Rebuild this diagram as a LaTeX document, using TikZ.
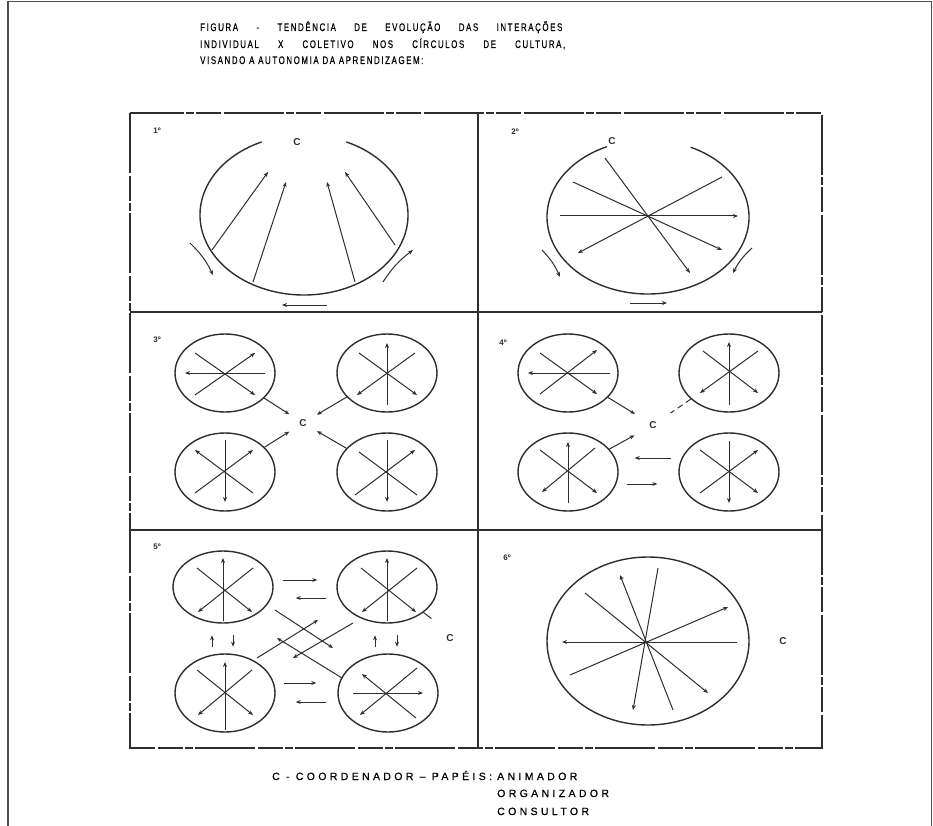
\documentclass[tikz,border=0pt]{standalone}
\usepackage{fontspec}
\setmainfont{Liberation Sans}
\newfontfamily\letreiro[LetterSpace=20, FakeBold=0.6]{Liberation Sans}
\newfontfamily\legfont[LetterSpace=32, FakeBold=0.6]{Liberation Sans}
\usetikzlibrary{arrows.meta, calc, shapes.geometric, positioning}
\definecolor{tinta}{HTML}{2E2E2E}
\definecolor{moldura}{HTML}{505050}
\tikzset{
    linha/.style={draw=tinta, line width=1.4pt},
    raio/.style={draw=tinta, line width=1pt},
    seta/.style={-{Stealth[length=5pt,width=4pt]}, draw=tinta, line width=1pt},
    grupo/.style={ellipse, draw=tinta, line width=1.4pt, minimum width=100pt, minimum height=78pt, inner sep=0pt},
    centro/.style={circle, inner sep=0pt, minimum size=32pt, font=\fontsize{10}{11}\selectfont\bfseries, text=tinta},
    etapa/.style={inner sep=0pt, font=\fontsize{8}{9}\selectfont\bfseries, text=tinta},
    titulo/.style={inner sep=0pt, anchor=base west, font=\letreiro\fontsize{11}{13}\selectfont},
    legenda/.style={inner sep=0pt, anchor=base west, font=\legfont\fontsize{10.5}{12}\selectfont},
    quadro/.style={draw=tinta, line width=1.2pt, dash pattern=on 60pt off 3pt on 25pt off 2pt on 8pt off 2pt}
}
\newcommand{\estreito}[1]{\scalebox{0.72}[1]{#1}}
\begin{document}
\begin{tikzpicture}[x=1pt, y=-1pt]
\useasboundingbox (0,0) rectangle (933,826);
% moldura da pagina
\draw[moldura, line width=1.2pt] (8,826) -- (8,1.5) -- (931.5,1.5) -- (931.5,826);

% titulo
\node (tit1) [titulo] at (200,31) {\estreito{\makebox[503pt][s]{FIGURA - TENDÊNCIA DE EVOLUÇÃO DAS INTERAÇÕES}}};
\node (tit2) [titulo] at (200,48) {\estreito{\makebox[507pt][s]{INDIVIDUAL X COLETIVO NOS CÍRCULOS DE CULTURA,}}};
\node (tit3) [titulo] at (200,64) {\estreito{VISANDO A AUTONOMIA DA APRENDIZAGEM:}};

% quadro com as seis etapas
\draw[quadro] (130,113) rectangle (822,748);
\draw[linha, line width=1.2pt] (478,113) -- (478,748);
\draw[linha, line width=1.2pt] (130,312) -- (822,312);
\draw[linha, line width=1.2pt] (130,530) -- (822,530);

\node (e1) [etapa] at (157,131) {1º};
\node (e2) [etapa] at (515,132) {2º};
\node (e3) [etapa] at (157,340) {3º};
\node (e4) [etapa] at (503,343) {4º};
\node (e5) [etapa] at (157,547) {5º};
\node (e6) [etapa] at (507,558) {6º};

% 1a etapa
\node (c1) [centro] at (297,142) {C};
\draw[linha] (304,215) ++(294:104 and 80) arc[start angle=294, end angle=606, x radius=104, y radius=80];
\draw[seta] (212,250) -- (268,172);
\draw[seta] (253,282) -- (286,182);
\draw[seta] (355,282) -- (327,182);
\draw[seta] (395,245) -- (345,172);
\draw[seta] (190,243) to[bend left=10] (213,275);
\draw[seta] (383,282) to[bend left=10] (413,250);
\draw[seta] (327,305) -- (282,305);

% 2a etapa
\node (c2) [centro] at (612,141) {C};
\draw[linha] (648,217) ++(295:101 and 77) arc[start angle=295, end angle=606, x radius=101, y radius=77];
\draw[seta] (560,216) -- (738,216);
\draw[seta] (605,158) -- (690,273);
\draw[seta] (573,182) -- (722,250);
\draw[seta] (722,177) -- (578,253);
\draw[seta] (542,250) to[bend left=10] (560,277);
\draw[seta] (752,248) to[bend right=10] (733,273);
\draw[seta] (630,303) -- (667,303);

% 3a etapa
\node (p3a) [grupo] at (225,373) {};
\node (p3b) [grupo] at (387,373) {};
\node (p3c) [grupo] at (225,472) {};
\node (p3d) [grupo] at (387,472) {};
\node (c3) [centro] at (303,423) {C};
\begin{scope}[shift={(p3a)}]
  \draw[seta] (40,0) -- (-40,0);
  \draw[seta] (-30,-20) -- (30,22);
  \draw[seta] (-30,22) -- (30,-20);
\end{scope}
\begin{scope}[shift={(p3b)}]
  \draw[seta] (0,32) -- (0,-30);
  \draw[seta] (-28,-20) -- (30,22);
  \draw[seta] (28,-20) -- (-30,22);
\end{scope}
\begin{scope}[shift={(p3c)}]
  \draw[seta] (0,-32) -- (0,30);
  \draw[seta] (28,21) -- (-30,-22);
  \draw[seta] (-30,21) -- (28,-22);
\end{scope}
\begin{scope}[shift={(p3d)}]
  \draw[seta] (0,-32) -- (0,30);
  \draw[seta] (-32,23) -- (28,-22);
  \draw[raio] (-28,-20) -- (30,23);
\end{scope}
\draw[seta] (p3a) -- (c3);
\draw[seta] (p3b) -- (c3);
\draw[seta] (p3c) -- (c3);
\draw[seta] (p3d) -- (c3);

% 4a etapa
\node (p4a) [grupo] at (568,373) {};
\node (p4b) [grupo] at (729,373) {};
\node (p4c) [grupo] at (568,472) {};
\node (p4d) [grupo] at (729,472) {};
\node (c4) [centro, minimum size=42pt] at (653,425) {C};
\begin{scope}[shift={(p4a)}]
  \draw[seta] (42,0) -- (-40,0);
  \draw[seta] (-28,-20) -- (29,21);
  \draw[seta] (-28,21) -- (29,-23);
\end{scope}
\begin{scope}[shift={(p4b)}]
  \draw[seta] (0,32) -- (0,-31);
  \draw[seta] (-26,-22) -- (29,20);
  \draw[seta] (29,-22) -- (-29,20);
\end{scope}
\begin{scope}[shift={(p4c)}]
  \draw[seta] (0,31) -- (0,-30);
  \draw[seta] (-28,-22) -- (29,21);
  \draw[seta] (27,-24) -- (-26,20);
\end{scope}
\begin{scope}[shift={(p4d)}]
  \draw[seta] (0,-31) -- (0,31);
  \draw[seta] (-29,-22) -- (29,21);
  \draw[seta] (-29,21) -- (29,-22);
\end{scope}
\draw[seta] (p4a) -- (c4);
\draw[raio, dash pattern=on 6pt off 4pt] (p4b) -- (c4);
\draw[seta] (p4c) -- (c4);
\draw[seta] ($(p4d.west)+(-7,-14)$) -- ($(p4c.east)+(16,-14)$);
\draw[seta] ($(p4c.east)+(8,12)$) -- ($(p4d.west)+(-21,12)$);

% 5a etapa
\node (p5a) [grupo, minimum height=72pt] at (223,587) {};
\node (p5b) [grupo, minimum height=72pt] at (387,587) {};
\node (p5c) [grupo] at (225,693) {};
\node (p5d) [grupo] at (388,693) {};
\node (c5) [centro, minimum size=12pt] at (450,638) {C};
\begin{scope}[shift={(p5a)}]
  \draw[seta] (0,34) -- (0,-29);
  \draw[seta] (-26,-19) -- (29,25);
  \draw[seta] (30,-19) -- (-25,25);
\end{scope}
\begin{scope}[shift={(p5b)}]
  \draw[seta] (0,34) -- (0,-29);
  \draw[seta] (-26,-19) -- (29,25);
  \draw[seta] (30,-19) -- (-25,25);
\end{scope}
\begin{scope}[shift={(p5c)}]
  \draw[seta] (0,37) -- (0,-31);
  \draw[seta] (-28,-23) -- (28,22);
  \draw[seta] (27,-23) -- (-27,22);
\end{scope}
\begin{scope}[shift={(p5d)}]
  \draw[seta] (-35,0) -- (35,0);
  \draw[seta] (28,25) -- (-26,-19);
  \draw[seta] (29,-25) -- (-28,22);
\end{scope}
\draw[seta] ($(p5a.east)+(9,-7)$) -- ($(p5b.west)+(-19,-7)$);
\draw[seta] ($(p5b.west)+(-10,11)$) -- ($(p5a.east)+(22,11)$);
\draw[seta] ($(p5c.east)+(8,-10)$) -- ($(p5d.west)+(-21,-10)$);
\draw[seta] ($(p5d.west)+(-11,9)$) -- ($(p5c.east)+(20,9)$);
\draw[seta] ($(p5c.north)+(-13,-6)$) -- ++(0,-12);
\draw[seta] ($(p5a.south)+(10,11)$) -- ++(0,12);
\draw[seta] ($(p5d.north)+(-13,-6)$) -- ++(0,-12);
\draw[seta] ($(p5b.south)+(10,11)$) -- ++(0,12);
\draw[seta] (275,610) -- (333,648);
\draw[seta] (342,678) -- (277,638);
\draw[seta] (257,658) -- (318,620);
\draw[seta] (353,623) -- (293,658);
\draw[raio] (p5b.-35) -- ++(8,6);

% 6a etapa
\node (p6) [grupo, minimum width=202pt, minimum height=168pt] at (648,641) {};
\node (c6) [centro, minimum size=12pt] at (783,641) {C};
\draw[seta] (737,642) -- (562,642);
\draw[seta] (673,710) -- (620,575);
\draw[seta] (658,568) -- (633,710);
\draw[seta] (585,593) -- (708,693);
\draw[seta] (570,675) -- (728,607);

% legenda
\node (leg) [legenda] at (272,780) {C - COORDENADOR – PAPÉIS:};
\node (ani) [legenda] at (497,780) {ANIMADOR};
\node (org) [legenda] at (497,797) {ORGANIZADOR};
\node (con) [legenda] at (497,815) {CONSULTOR};
\end{tikzpicture}
\end{document}
